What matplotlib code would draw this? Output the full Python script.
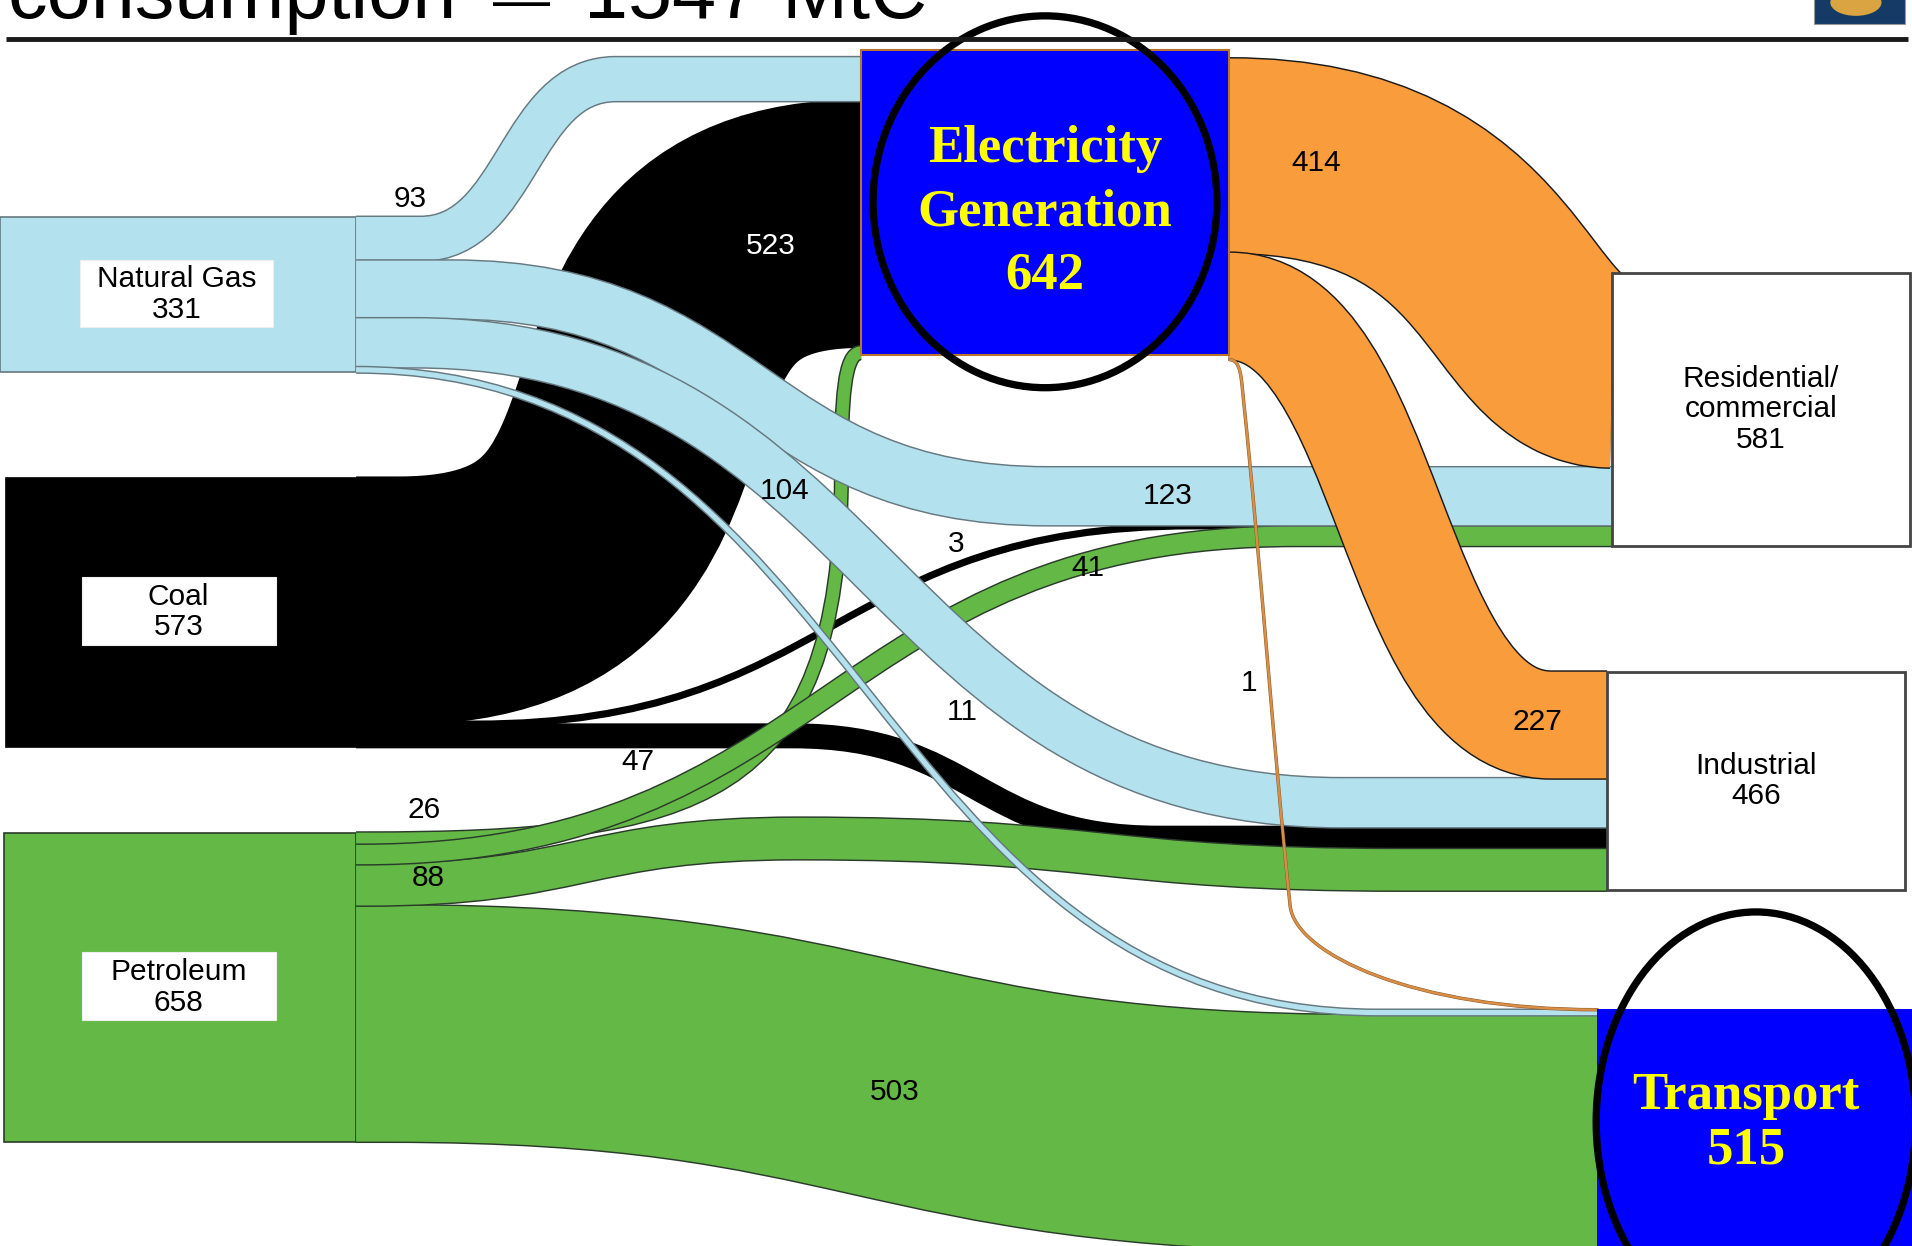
import numpy as np
import matplotlib
matplotlib.use("Agg")
import matplotlib.pyplot as plt
import matplotlib.patheffects as pe
from matplotlib.path import Path
from matplotlib.patches import PathPatch, Rectangle, Ellipse

# ---- data (MtC) ----
sources = ["NG", "Coal", "Pet"]
source_names = ["Natural Gas", "Coal", "Petroleum"]
source_totals = [331, 573, 658]

sinks = ["Res", "Ind", "Trans"]
sink_names = ["Residential/\ncommercial", "Industrial", "Transport"]
sink_totals = [581, 466, 515]

elec_name = "Electricity\nGeneration"
elec_total = 642

to_elec = [93, 523, 26]            # NG, Coal, Pet -> electricity
ng_to_sinks = [123, 104, 11]       # -> Res, Ind, Trans
coal_to_sinks = [3, 47, 0]
pet_to_sinks = [41, 88, 503]
elec_to_sinks = [414, 227, 1]

title_parts = ["consumption", "\u2014", "1547 MtC"]

# ---- layout (drawing units: 1568 x 1022 canvas) ----
W, H = 1568, 1022
PX = 1912 / W
S = 0.385  # drawing units per MtC

LB, BK, GR, OR = "#B3E1EE", "#000000", "#64B946", "#F99C3C"
fill = {"NG": LB, "Coal": BK, "Pet": GR, "Elec": OR}
edge = {"NG": "#667880", "Coal": "#000000", "Pet": "#2b3b2b", "Elec": "#1a1a1a"}

src_box = {"NG": (0, 178, 292), "Coal": (5, 392, 292), "Pet": (3, 683, 292)}
src_label_box = {"NG": (66, 213, 158, 55), "Coal": (67, 473, 159, 56), "Pet": (67, 781, 159, 56)}
elec_box = (706, 41, 302, 250)
elec_in_top, elec_out_top = 47, 48
sink_left = {"Res": 1322, "Ind": 1318, "Trans": 1310}
sink_top = {"Res": 224, "Ind": 551, "Trans": 828}
sink_right = {"Res": 1566, "Ind": 1562, "Trans": 1568}


def sig(xa, xb, ka=0.5, kb=None):
    kb = ka if kb is None else kb
    return [(xa, 0, 0, 0, ka * (xb - xa)), (xb, 1, 0, kb * (xb - xa), 0)]


routes = {
    ("Coal", "Elec"): sig(328, 706, 0.75, 0.7),
    ("Coal", "Ind"): sig(650, 950),
    ("Coal", "Res"): sig(390, 978),
    ("Pet", "Trans"): sig(320, 1120),
    ("Pet", "Ind"): [(300, 0, 0, 0, 177), (655, 0, 0, 177, 247, -38), (1150, 1, 0, 247, 0)],
    ("Pet", "Elec"): [(300, 0, 0, 0, 270), (690, 0.75, -90, 270, 60), (706, 1, 0, 14, 0)],
    ("Pet", "Res"): sig(297, 1063),
    ("NG", "Elec"): sig(345, 505),
    ("NG", "Res"): sig(370, 860),
    ("NG", "Ind"): sig(340, 1100),
    ("NG", "Trans"): sig(292, 1130),
    ("Elec", "Res"): [(1008, 0, 0, 0, 235), (1322, 1, 0, 90, 0)],
    ("Elec", "Ind"): sig(1008, 1272),
    ("Elec", "Trans"): [(1008, 0, 0, 0, 10), (1020, 0.066, 84, 20, 130),
                        (1058, 0.84, 84, 130, 40), (1310, 1, 0, 150, 0)],
}
min_width = {("Coal", "Res"): 3.5, ("Elec", "Trans"): 2.0}

label_pos = {("NG", "Elec"): (336, 163), ("Coal", "Elec"): (632, 202), ("Elec", "Res"): (1079, 134),
             ("NG", "Ind"): (643, 403), ("NG", "Res"): (958, 407), ("Coal", "Res"): (784, 446),
             ("Pet", "Res"): (892, 466), ("Elec", "Trans"): (1024, 560), ("NG", "Trans"): (789, 584),
             ("Coal", "Ind"): (523, 625), ("Pet", "Elec"): (348, 664), ("Pet", "Ind"): (351, 720),
             ("Elec", "Ind"): (1261, 592), ("Pet", "Trans"): (734, 896)}

# ---- flow table ----
flows = {}
for s, v in zip(sources, to_elec):
    flows[(s, "Elec")] = v
for s, row in zip(sources, [ng_to_sinks, coal_to_sinks, pet_to_sinks]):
    for k, v in zip(sinks, row):
        if v:
            flows[(s, k)] = v
for k, v in zip(sinks, elec_to_sinks):
    flows[("Elec", k)] = v

out_order = {"NG": ["Elec", "Res", "Ind", "Trans"], "Coal": ["Elec", "Res", "Ind"],
             "Pet": ["Elec", "Res", "Ind", "Trans"], "Elec": ["Res", "Ind", "Trans"]}
in_order = {"Elec": ["NG", "Coal", "Pet"], "Res": ["Elec", "NG", "Coal", "Pet"],
            "Ind": ["Elec", "NG", "Coal", "Pet"], "Trans": ["Elec", "NG", "Pet"]}

start_y, end_y = {}, {}
for s, order in out_order.items():
    y = elec_out_top if s == "Elec" else src_box[s][1]
    for t in order:
        v = flows[(s, t)]
        start_y[(s, t)] = y + v * S / 2
        y += v * S
for t, order in in_order.items():
    y = elec_in_top if t == "Elec" else sink_top[t]
    for s in order:
        v = flows[(s, t)]
        end_y[(s, t)] = y + v * S / 2
        y += v * S


def build_path(xs, ys, xe, ye, anchors):
    pts = []
    for a in anchors:
        x, frac, ang, hin, hout = a[:5]
        lift = a[5] if len(a) > 5 else 0
        d = np.array([np.cos(np.radians(ang)), np.sin(np.radians(ang))])
        pts.append((np.array([x, ys + frac * (ye - ys) + lift]), d, hin, hout))
    verts, codes = [(xs, ys)], [Path.MOVETO]
    verts.append(tuple(pts[0][0])); codes.append(Path.LINETO)
    for (pa, da, _, ho), (pb, db, hi, _) in zip(pts[:-1], pts[1:]):
        verts += [tuple(pa + ho * da), tuple(pb - hi * db), tuple(pb)]
        codes += [Path.CURVE4] * 3
    verts.append((xe, ye)); codes.append(Path.LINETO)
    return Path(verts, codes)


def lw_pt(units):
    return units * PX * 72 / 100


fig = plt.figure(figsize=(19.12, 12.46), dpi=100)
ax = fig.add_axes([0, 0, 1, 1])
ax.set_xlim(0, W)
ax.set_ylim(H, 0)
ax.axis("off")

# source nodes
for i, s in enumerate(sources):
    x0, y0, x1 = src_box[s]
    h = source_totals[i] * S
    ax.add_patch(Rectangle((x0, y0), x1 - x0, h, facecolor=fill[s], edgecolor=edge[s],
                           lw=1.2, zorder=1))

# flows
draw_order = [("Coal", "Elec"), ("Coal", "Ind"), ("Coal", "Res"), ("Pet", "Trans"), ("Pet", "Ind"),
              ("Pet", "Elec"), ("Pet", "Res"), ("NG", "Elec"), ("NG", "Res"), ("NG", "Ind"),
              ("NG", "Trans"), ("Elec", "Res"), ("Elec", "Ind"), ("Elec", "Trans")]
for z, key in enumerate(draw_order):
    s, t = key
    v = flows[key]
    xs = elec_box[0] + elec_box[2] if s == "Elec" else src_box[s][2]
    xe = elec_box[0] if t == "Elec" else sink_left[t]
    path = build_path(xs, start_y[key], xe, end_y[key], routes[key])
    w = max(v * S, min_width.get(key, 0))
    col, ec, ew = fill[s], edge[s], 1.2
    if key == ("Elec", "Trans"):
        col, ec, ew = "#D98E45", "#8a5a2b", 0.4
    patch = PathPatch(path, facecolor="none", edgecolor=col, lw=lw_pt(w),
                      capstyle="butt", joinstyle="round", zorder=2 + z * 0.1)
    patch.set_path_effects([pe.Stroke(linewidth=lw_pt(w + 2 * ew), foreground=ec), pe.Normal()])
    ax.add_patch(patch)

# source labels
for i, s in enumerate(sources):
    bx, by, bw, bh = src_label_box[s]
    ax.add_patch(Rectangle((bx, by), bw, bh, facecolor="white", edgecolor="#eeeeee", lw=0.8, zorder=5))
    ax.text(bx + bw / 2, by + bh / 2 + 1, f"{source_names[i]}\n{source_totals[i]}", ha="center",
            va="center", fontsize=21.5, family="Liberation Sans", zorder=6, linespacing=1.12)

# sink boxes
for i, t in enumerate(sinks[:2]):
    x0, y0 = sink_left[t], sink_top[t]
    h = sink_totals[i] * S
    ax.add_patch(Rectangle((x0, y0), sink_right[t] - x0, h, facecolor="white", edgecolor="#444444",
                           lw=2.0, zorder=5))
    ax.text((x0 + sink_right[t]) / 2, y0 + h / 2, f"{sink_names[i]}\n{sink_totals[i]}", ha="center",
            va="center", fontsize=21.5, family="Liberation Sans", zorder=6, linespacing=1.12)

# transport (highlighted)
tx0, ty0 = sink_left["Trans"], sink_top["Trans"]
ax.add_patch(Rectangle((tx0, ty0), W - tx0 + 5, sink_totals[2] * S, facecolor="#0000FF",
                       edgecolor="none", zorder=5))
ax.add_patch(Ellipse((1440, 920), 262, 344, facecolor="none", edgecolor="black", lw=lw_pt(6), zorder=6))
ax.text(1432, 921, f"{sink_names[2]}\n{sink_totals[2]}", ha="center", va="center", fontsize=38,
        family="Liberation Serif", weight="bold", color="#FFFF00", linespacing=1.18, zorder=7)

# electricity node
ex, ey, ew_, eh = elec_box
ax.add_patch(Rectangle((ex, ey), ew_, eh, facecolor="#0000FF", edgecolor="#B8732F", lw=1.5, zorder=5))
ax.add_patch(Ellipse((857, 165.5), 282, 305, facecolor="none", edgecolor="black", lw=lw_pt(6), zorder=6))
ax.text(857, 174, f"{elec_name}\n{elec_total}", ha="center", va="center", fontsize=38,
        family="Liberation Serif", weight="bold", color="#FFFF00", linespacing=1.42, zorder=7)

# flow labels
for key, (lx, ly) in label_pos.items():
    ax.text(lx, ly, str(flows[key]), ha="center", va="center", fontsize=21.5,
            family="Liberation Sans", color="white" if key == ("Coal", "Elec") else "black", zorder=8)

# title strip (cut by the top edge, as in the source), rule and logo
tkw = dict(ha="left", va="baseline", family="Liberation Sans", zorder=8)
ax.text(6, 15, title_parts[0], fontsize=57, **tkw)
ax.text(404, 15.3, title_parts[1], fontsize=41, **tkw)
ax.text(479, 15, title_parts[2], fontsize=57, **tkw)
ax.plot([5, 1565], [32, 32], color="#1a1a1a", lw=lw_pt(4), solid_capstyle="butt", zorder=8)
ax.add_patch(Rectangle((1488, -5), 74, 25, facecolor="#153A66", edgecolor="#999999", lw=0.8, zorder=8))
ax.add_patch(Ellipse((1522, 2), 42, 22, facecolor="#D9A441", edgecolor="none", zorder=9))

fig.savefig("out.png", dpi=100)
